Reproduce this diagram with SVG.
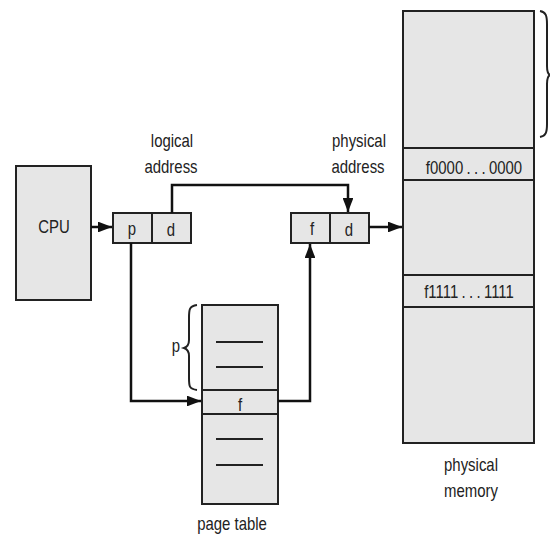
<svg xmlns="http://www.w3.org/2000/svg" width="550" height="536" viewBox="0 0 550 536">
<style>
.box{fill:#e6e6e6;stroke:#222;stroke-width:2}
.ln{fill:none;stroke:#111;stroke-width:2.5}
.thin{fill:none;stroke:#222;stroke-width:2}
text{font-family:"Liberation Sans",Arial,sans-serif;font-size:18px;fill:#222;text-anchor:middle}
.addr{word-spacing:-1px}
</style>
<defs>
<marker id="ah" viewBox="0 0 10 10" refX="10" refY="5" markerWidth="5.6" markerHeight="4.3" orient="auto" markerUnits="strokeWidth" preserveAspectRatio="none">
<path d="M0,0 L10,5 L0,10 z" fill="#111"/>
</marker>
</defs>
<rect width="550" height="536" fill="#fff"/>
<g id="cpu">
<rect class="box" x="16" y="166" width="75" height="134"/>
<text transform="translate(54,233) scale(0.83,1)">CPU</text>
</g>
<g id="logical">
<rect class="box" x="113" y="213" width="78" height="30"/>
<line class="thin" x1="152" y1="213" x2="152" y2="243"/>
<text transform="translate(132,235) scale(0.83,1)">p</text>
<text transform="translate(171,236) scale(0.83,1)">d</text>
<text transform="translate(172,147) scale(0.83,1)">logical</text>
<text transform="translate(171,173) scale(0.83,1)">address</text>
</g>
<g id="physaddr">
<rect class="box" x="291" y="213" width="78" height="30"/>
<line class="thin" x1="330" y1="213" x2="330" y2="243"/>
<text transform="translate(312,235) scale(0.83,1)">f</text>
<text transform="translate(349,236) scale(0.83,1)">d</text>
<text transform="translate(359,147) scale(0.83,1)">physical</text>
<text transform="translate(358,173) scale(0.83,1)">address</text>
</g>
<g id="pagetable">
<rect class="box" x="202" y="305" width="76" height="199"/>
<line class="thin" x1="202" y1="390" x2="278" y2="390"/>
<line class="thin" x1="202" y1="414" x2="278" y2="414"/>
<line class="thin" x1="216" y1="342" x2="263" y2="342"/>
<line class="thin" x1="216" y1="367" x2="263" y2="367"/>
<line class="thin" x1="216" y1="439" x2="263" y2="439"/>
<line class="thin" x1="216" y1="465" x2="263" y2="465"/>
<text transform="translate(240,411) scale(0.83,1)">f</text>
<path class="thin" stroke-width="1.5" d="M197,305 C189,306 189,310 189,318 L189,340 C189,345 187,347 184,348 C187,349 189,351 189,356 L189,378 C189,386 189,389 197,390"/>
<text transform="translate(176,352) scale(0.83,1)">p</text>
<text transform="translate(232,530) scale(0.83,1)">page table</text>
</g>
<g id="memory">
<rect class="box" x="403" y="11" width="131" height="432"/>
<line class="thin" x1="403" y1="148" x2="534" y2="148"/>
<line class="thin" x1="403" y1="180" x2="534" y2="180"/>
<line class="thin" x1="403" y1="275" x2="534" y2="275"/>
<line class="thin" x1="403" y1="307" x2="534" y2="307"/>
<text class="addr" transform="translate(474,174) scale(0.83,1)">f0000 . . . 0000</text>
<text class="addr" transform="translate(469,298) scale(0.83,1)">f1111 . . . 1111</text>
<path class="thin" stroke-width="1.5" d="M540,11 C546,12 547,16 547,24 L547,66 C547,72 548,74 550,75 M540,137 C546,136 547,132 547,124 L547,84 C547,78 548,76 550,75"/>
<text transform="translate(471,471) scale(0.83,1)">physical</text>
<text transform="translate(471,497) scale(0.83,1)">memory</text>
</g>
<g id="connectors">
<line class="ln" x1="91" y1="227" x2="112" y2="227" marker-end="url(#ah)"/>
<polyline class="ln" points="172,213 172,185 348,185 348,212" marker-end="url(#ah)"/>
<line class="ln" x1="369" y1="227" x2="402" y2="227" marker-end="url(#ah)"/>
<polyline class="ln" points="131,243 131,401 201,401" marker-end="url(#ah)"/>
<polyline class="ln" points="278,401 310,401 310,244" marker-end="url(#ah)"/>
</g>
</svg>
